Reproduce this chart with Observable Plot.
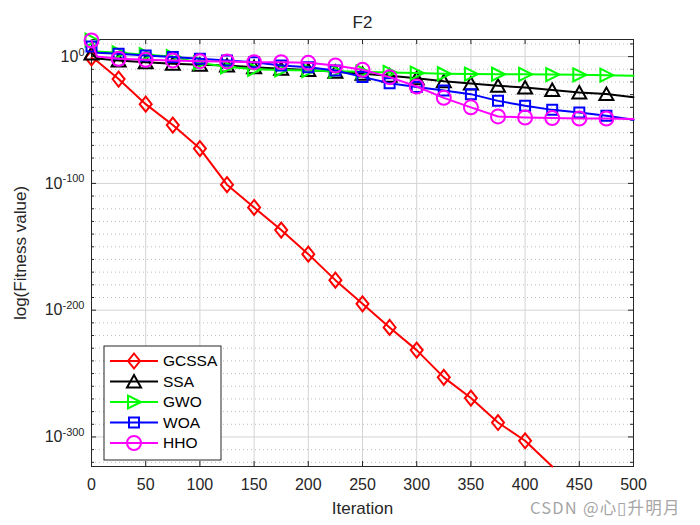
<!DOCTYPE html>
<html><head><meta charset="utf-8">
<script src="https://cdn.jsdelivr.net/npm/d3@7"></script>
<script src="https://cdn.jsdelivr.net/npm/@observablehq/plot@0.6"></script>
<style>
body{margin:0;background:#fff;}
#chart{position:relative;width:700px;height:525px;}
</style>
</head><body><div id="chart"></div>
<script>
// ---- data (y values are log10 of fitness) ----
const iterations = [0,5,25,50,75,100,125,150,175,200,225,250,275,300,325,350,375,400,425,450,475,500];
const gcssa = [-1,-3.5,-17.7,-37.5,-54,-72.5,-101,-119,-136.8,-155.8,-176.3,-195,-213.6,-231.5,-253,-269.3,-288.6,-303,-323.3,null,null,null];
const ssa   = [2.5,-1.5,-3,-4.4,-5.7,-6.5,-7,-8.3,-9.5,-10.5,-12,-13.5,-15,-17,-19.5,-21.2,-23,-24.4,-26.4,-28.3,-29.5,-32];
const gwo   = [13,4,3,1.5,0,-5,-8,-10,-10.5,-11,-11.5,-12,-12.5,-13,-13.5,-13.8,-13.9,-14,-14.2,-14.4,-14.6,-15];
const woa   = [8,3,2.2,0.9,-0.4,-1.7,-3,-4.4,-7,-8.3,-11,-16,-21,-24,-26.7,-29.6,-34.9,-38.8,-42,-44,-46.7,-49.8];
const hho   = [12.7,0,-1.7,-2.5,-3,-3.6,-3.8,-4.4,-4.4,-4.9,-7,-10.4,-16.2,-23.6,-32.5,-40,-47.2,-48,-48.5,-48.8,-48.8,-49.3];

const seriesNames  = ["GCSSA","SSA","GWO","WOA","HHO"];
const seriesValues = [gcssa, ssa, gwo, woa, hho];
const seriesColors = ["#ff0000","#000000","#00ff00","#0000ff","#ff00ff"];
const seriesSymbols = ["diamond","triangleUp","triangleRight","square","circle"];

const xTicks = [0,50,100,150,200,250,300,350,400,450,500];
const yMajorTicks = [0,-100,-200,-300];
const yMinorTicks = d3.range(-320, 11, 10).filter(v => v % 100 !== 0);
const xDomain = [0, 500];
const yDomain = [-323.3, 13.5];

// ---- marker shapes ----
const shapes = {
  diamond: c => { c.moveTo(0,-7.5); c.lineTo(6,0); c.lineTo(0,7.5); c.lineTo(-6,0); c.closePath(); },
  triangleUp: c => { c.moveTo(0,-6.5); c.lineTo(7,6); c.lineTo(-7,6); c.closePath(); },
  triangleRight: c => { c.moveTo(7,0); c.lineTo(-6,6.5); c.lineTo(-6,-6.5); c.closePath(); },
  square: c => { c.moveTo(-5,-5); c.lineTo(5,-5); c.lineTo(5,5); c.lineTo(-5,5); c.closePath(); },
  circle: c => { c.moveTo(7,0); c.arc(0,0,7,0,2*Math.PI); c.closePath(); }
};
const symbolObj = name => ({draw(ctx){ shapes[name](ctx); }});
const symbolPath = name => { const p = d3.path(); shapes[name](p); return p.toString(); };

const W = 700, H = 525, mL = 91, mR = 67, mT = 39, mB = 59;
const plotW = W - mL - mR, plotH = H - mT - mB;
const ink = "#262626";
const font = "'Liberation Sans', Arial, Helvetica, sans-serif";

const marks = [
  Plot.gridX(xTicks, {stroke: "#d4d4d4", strokeOpacity: 1, strokeWidth: 1}),
  Plot.gridY(yMinorTicks, {stroke: "#bdbdbd", strokeOpacity: 1, strokeDasharray: "1,3", strokeWidth: 1}),
  Plot.gridY(yMajorTicks, {stroke: "#d4d4d4", strokeOpacity: 1, strokeWidth: 1}),
  Plot.frame({stroke: ink, strokeWidth: 1}),
  // inward ticks
  Plot.tickX(xTicks, {x: d => d, insetTop: plotH - 5, stroke: ink}),
  Plot.tickX(xTicks, {x: d => d, insetBottom: plotH - 5, stroke: ink}),
  Plot.tickY(yMajorTicks, {y: d => d, insetRight: plotW - 5, stroke: ink}),
  Plot.tickY(yMajorTicks, {y: d => d, insetLeft: plotW - 5, stroke: ink}),
  Plot.tickY(yMinorTicks, {y: d => d, insetRight: plotW - 3, stroke: ink}),
  Plot.tickY(yMinorTicks, {y: d => d, insetLeft: plotW - 3, stroke: ink}),
  Plot.axisX({ticks: xTicks, tickSize: 0, tickPadding: 12, fontSize: 16, color: ink,
    label: "Iteration", labelAnchor: "center", labelArrow: "none", labelOffset: 47}),
  Plot.axisY({ticks: yMajorTicks, tickSize: 0, tickPadding: 7, fontSize: 16, color: ink,
    tickFormat: d => "10^" + d,
    label: "log(Fitness value)", labelAnchor: "center", labelArrow: "none", labelOffset: 78}),
  Plot.text(["F2"], {frameAnchor: "top", dy: -24, fontSize: 17, fill: ink})
];

seriesNames.forEach((name, i) => {
  const rows = iterations.map((x, j) => ({x, y: seriesValues[i][j]}));
  marks.push(Plot.line(rows, {x: "x", y: "y", stroke: seriesColors[i], strokeWidth: 2}));
  const markerRows = rows.filter(r => r.y != null && r.x % 25 === 0 && r.x < 500 && r.y > -320);
  marks.push(Plot.dot(markerRows, {x: "x", y: "y", symbol: symbolObj(seriesSymbols[i]), r: 5,
    fill: "none", stroke: seriesColors[i], strokeWidth: 2}));
});

const chart = Plot.plot({
  width: W, height: H, marginLeft: mL, marginRight: mR, marginTop: mT, marginBottom: mB,
  style: {fontFamily: font, background: "#fff", overflow: "visible"},
  x: {domain: xDomain},
  y: {domain: yDomain},
  marks
});
document.getElementById("chart").appendChild(chart);

const svg = d3.select(chart);
// superscript exponents on y tick labels
svg.selectAll('g[aria-label="y-axis tick label"] text').each(function() {
  const t = d3.select(this);
  const s = t.text();
  const exp = s.replace("10^", "").replace("−", "-");
  t.text(null);
  t.append("tspan").text("10");
  t.append("tspan").attr("dy", "-0.55em").attr("font-size", "11px").text(exp);
});
svg.select('g[aria-label="y-axis label"] text').attr("font-size", 17);
svg.select('g[aria-label="x-axis label"] text').attr("font-size", 17);

// legend
const lg = svg.append("g").attr("font-family", font);
lg.append("rect").attr("x", 104).attr("y", 346).attr("width", 117).attr("height", 114)
  .attr("fill", "#fff").attr("stroke", ink).attr("stroke-width", 1);
seriesNames.forEach((name, i) => {
  const yy = 361 + i * 20.5;
  lg.append("line").attr("x1", 110).attr("x2", 158).attr("y1", yy).attr("y2", yy)
    .attr("stroke", seriesColors[i]).attr("stroke-width", 2);
  lg.append("path").attr("d", symbolPath(seriesSymbols[i])).attr("transform", `translate(134,${yy})`)
    .attr("fill", "none").attr("stroke", seriesColors[i]).attr("stroke-width", 2);
  lg.append("text").attr("x", 163).attr("y", yy).attr("dy", "0.35em")
    .attr("text-anchor", "start").attr("font-size", 15.5).attr("fill", "#000").text(name);
});

// watermark
svg.append("text").attr("x", 530).attr("y", 508).attr("dy", "0.35em").attr("text-anchor", "start")
  .attr("font-family", "'Noto Sans CJK SC', 'Noto Sans', sans-serif").attr("font-size", 16.5)
  .attr("letter-spacing", 1.2).attr("fill", "#a6a6a6").text("CSDN @心▯升明月");
</script>
</body></html>
